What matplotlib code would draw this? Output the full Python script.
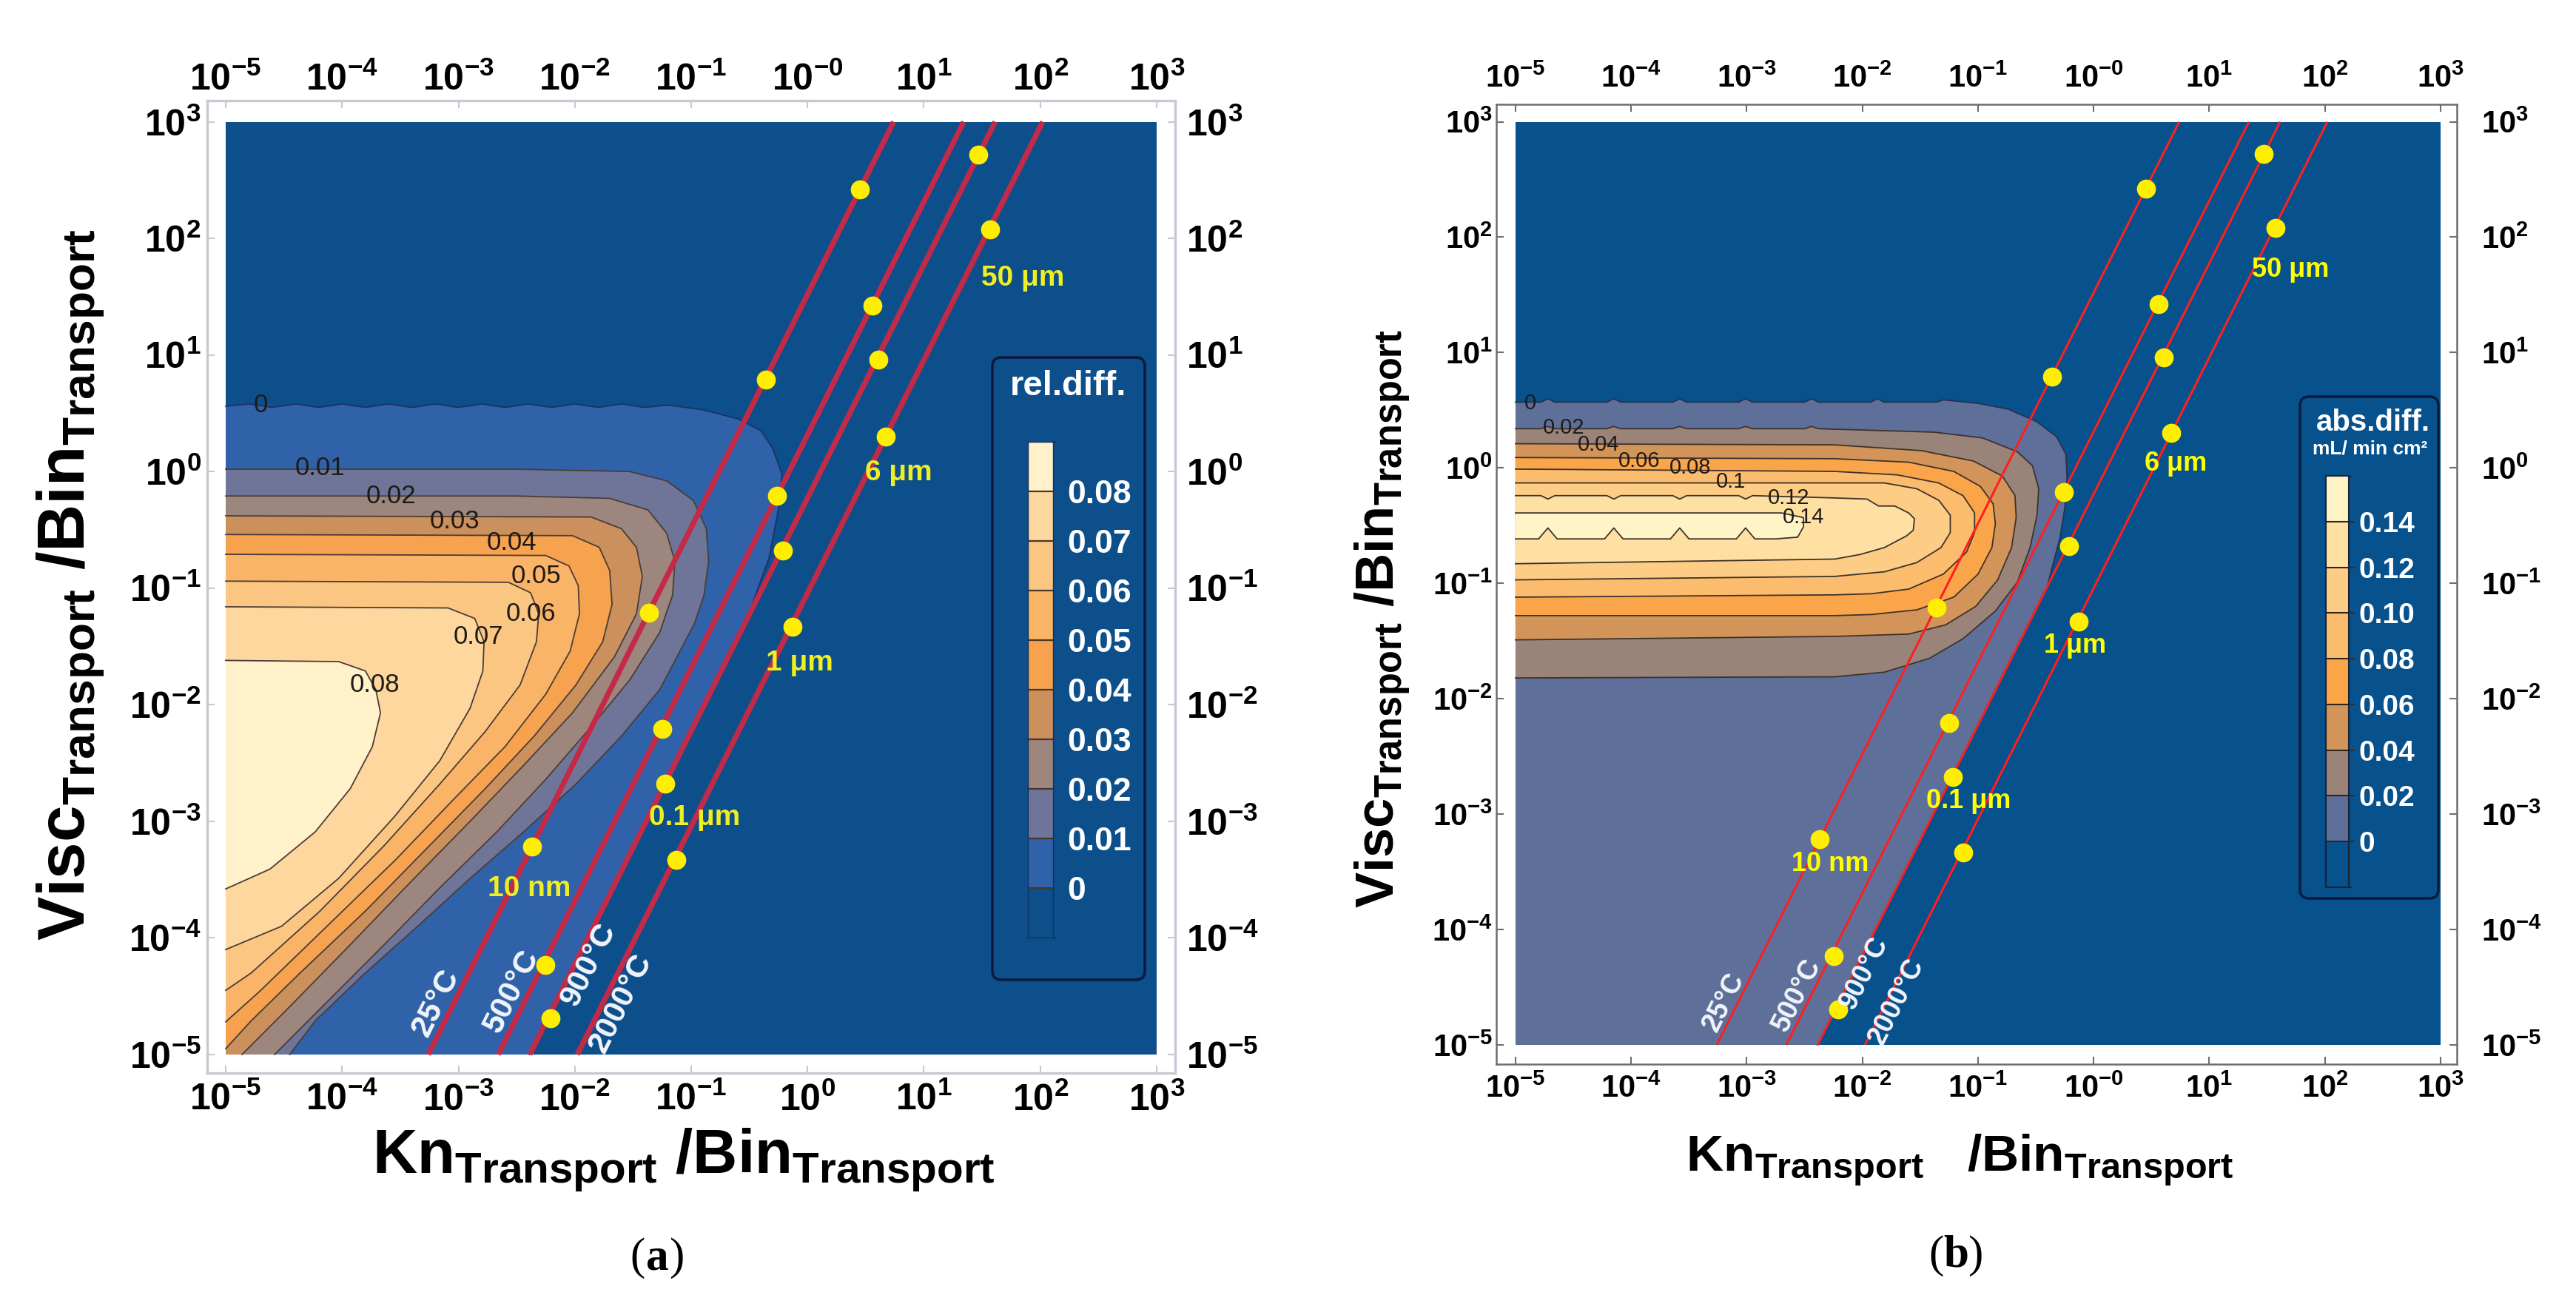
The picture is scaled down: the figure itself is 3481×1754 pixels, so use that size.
import numpy as np
import matplotlib
matplotlib.use("Agg")
import matplotlib.pyplot as plt
from matplotlib.colors import ListedColormap, BoundaryNorm
from matplotlib.cm import ScalarMappable
from matplotlib.patches import FancyBboxPatch
from matplotlib.ticker import NullLocator

plt.rcParams['font.family'] = 'Liberation Sans'
plt.rcParams['mathtext.fontset'] = 'custom'
plt.rcParams['mathtext.rm'] = 'Liberation Sans'
plt.rcParams['mathtext.bf'] = 'Liberation Sans:bold'
plt.rcParams['mathtext.it'] = 'Liberation Sans:italic'

W, H = 3481, 1754

# ---------------- data ----------------
decades = [-5, -4, -3, -2, -1, 0, 1, 2, 3]
exp_a_bottom = ['-5', '-4', '-3', '-2', '-1', '0', '1', '2', '3']
exp_a_top = ['-5', '-4', '-3', '-2', '-1', '-0', '1', '2', '3']
exp_b_x = ['-5', '-4', '-3', '-2', '-1', '-0', '1', '2', '3']
exp_y = ['-5', '-4', '-3', '-2', '-1', '0', '1', '2', '3']

# temperature lines: Kn/Bin at Visc/Bin = 1e-5 and 1e3
temps = ['25°C', '500°C', '900°C', '2000°C']
line_x_start = [5.5e-4, 2.2e-3, 4.1e-3, 1.05e-2]
line_x_end = [5.5, 22.0, 41.0, 105.0]
line_y_start = 1e-5
line_y_end = 1e3

# particle size points on each temperature line
dots_x = [[2.82, 0.437, 0.0437, 0.00427],
          [3.63, 0.55, 0.0562, 0.00562],
          [29.5, 4.07, 0.617, 0.0603, 0.00617],
          [37.2, 4.68, 0.741, 0.0741]]
dots_y = [[263, 6.17, 0.0617, 6.03e-4],
          [26.3, 0.617, 6.17e-3, 5.89e-5],
          [525, 9.12, 0.209, 2.09e-3, 2.04e-5],
          [120, 2.0, 0.0468, 4.68e-4]]

sizes = ['50 μm', '6 μm', '1 μm', '0.1 μm', '10 nm']
a_size_pos = [(1.85, 1.66), (0.78, -0.01), (-0.07, -1.64), (-0.97, -2.97), (-2.39, -3.58)]
b_size_pos = [(1.70, 1.72), (0.71, 0.04), (-0.16, -1.54), (-1.08, -2.89), (-2.28, -3.43)]
a_temp_v = [-4.62, -4.52, -4.18, -4.5]
b_temp_v = [-4.68, -4.62, -4.34, -4.59]
a_temp_side = [15.5, 15.5, -12, -16]
b_temp_side = [12.5, 12.5, -9, -9]

# panel (a): relative difference contours, vertices in decades (log10 x, log10 y)
a_levels = [0, 0.01, 0.02, 0.03, 0.04, 0.05, 0.06, 0.07, 0.08]
a_level_text = ['0', '0.01', '0.02', '0.03', '0.04', '0.05', '0.06', '0.07', '0.08']
a_c000 = [(-5.0, 0.56), (-4.8, 0.58), (-4.6, 0.55), (-4.4, 0.58), (-4.2, 0.55), (-4.0, 0.58),
          (-3.8, 0.55), (-3.6, 0.58), (-3.4, 0.55), (-3.2, 0.58), (-3.0, 0.55), (-2.8, 0.58),
          (-2.6, 0.55), (-2.4, 0.58), (-2.2, 0.55), (-2.0, 0.58), (-1.8, 0.55), (-1.6, 0.58),
          (-1.4, 0.55), (-1.2, 0.57), (-0.9, 0.53), (-0.59, 0.45), (-0.40, 0.35), (-0.30, 0.20),
          (-0.22, -0.02), (-0.25, -0.32), (-0.33, -0.74), (-0.48, -1.15), (-0.67, -1.57),
          (-1.05, -2.32), (-1.5, -3.22), (-1.95, -4.12), (-2.39, -5.0)]
a_c001 = [(-5.0, 0.02), (-2.5, 0.02), (-1.53, 0.0), (-1.21, -0.08), (-0.98, -0.25), (-0.87, -0.49),
          (-0.85, -0.77), (-0.89, -1.06), (-0.97, -1.30), (-1.27, -1.87), (-1.60, -2.27),
          (-1.99, -2.68), (-2.44, -3.09), (-2.90, -3.49), (-3.35, -3.90), (-3.80, -4.30),
          (-4.23, -4.71), (-4.45, -5.0)]
a_c002 = [(-5.0, -0.21), (-2.5, -0.21), (-1.70, -0.23), (-1.37, -0.33), (-1.21, -0.53),
          (-1.14, -0.77), (-1.16, -1.06), (-1.27, -1.38), (-1.53, -1.79), (-1.86, -2.19),
          (-2.25, -2.64), (-2.67, -3.09), (-3.16, -3.57), (-3.64, -4.06), (-4.13, -4.55),
          (-4.58, -5.0)]
a_c003 = [(-5.0, -0.38), (-1.86, -0.39), (-1.60, -0.49), (-1.47, -0.65), (-1.42, -0.90),
          (-1.47, -1.22), (-1.66, -1.59), (-2.02, -2.07), (-2.44, -2.52), (-2.90, -3.00),
          (-3.42, -3.53), (-3.97, -4.10), (-4.45, -4.59), (-4.86, -5.0)]
a_c004 = [(-5.0, -0.54), (-2.02, -0.55), (-1.79, -0.65), (-1.70, -0.85), (-1.68, -1.14),
          (-1.76, -1.46), (-1.99, -1.83), (-2.35, -2.27), (-2.77, -2.72), (-3.25, -3.21),
          (-3.80, -3.77), (-4.36, -4.30), (-4.78, -4.71), (-5.0, -4.95)]
a_c005 = [(-5.0, -0.71), (-2.25, -0.72), (-2.05, -0.81), (-1.97, -0.98), (-1.96, -1.22),
          (-2.04, -1.54), (-2.25, -1.91), (-2.60, -2.36), (-3.03, -2.80), (-3.54, -3.33),
          (-4.13, -3.90), (-4.71, -4.46), (-5.0, -4.72)]
a_c006 = [(-5.0, -0.94), (-2.57, -0.95), (-2.38, -1.04), (-2.31, -1.22), (-2.33, -1.46),
          (-2.47, -1.83), (-2.77, -2.23), (-3.16, -2.68), (-3.64, -3.21), (-4.19, -3.77),
          (-4.78, -4.30), (-5.0, -4.45)]
a_c007 = [(-5.0, -1.16), (-3.09, -1.17), (-2.86, -1.26), (-2.78, -1.46), (-2.79, -1.71),
          (-2.90, -2.03), (-3.16, -2.48), (-3.55, -2.96), (-4.03, -3.49), (-4.52, -3.90),
          (-5.0, -4.10)]
a_c008 = [(-5.0, -1.62), (-4.03, -1.63), (-3.80, -1.71), (-3.71, -1.87), (-3.67, -2.07),
          (-3.74, -2.36), (-3.93, -2.72), (-4.23, -3.09), (-4.62, -3.41), (-5.0, -3.58)]
a_label_pos = [(-4.70, 0.57), (-4.19, 0.03), (-3.58, -0.21), (-3.03, -0.43), (-2.54, -0.61),
               (-2.33, -0.90), (-2.38, -1.22), (-2.83, -1.42), (-3.72, -1.83)]

# panel (b): absolute difference contours
b_levels = [0, 0.02, 0.04, 0.06, 0.08, 0.10, 0.12, 0.14]
b_level_text = ['0', '0.02', '0.04', '0.06', '0.08', '0.1', '0.12', '0.14']
b_bar_text = ['0', '0.02', '0.04', '0.06', '0.08', '0.10', '0.12', '0.14']
b_c000 = [(-5.0, 0.57), (-4.78, 0.57), (-4.72, 0.60), (-4.66, 0.57), (-4.21, 0.57), (-4.15, 0.60),
          (-4.09, 0.57), (-3.64, 0.57), (-3.58, 0.60), (-3.52, 0.57), (-3.07, 0.57), (-3.01, 0.60),
          (-2.95, 0.57), (-2.50, 0.57), (-2.44, 0.60), (-2.38, 0.57), (-1.93, 0.57), (-1.87, 0.60),
          (-1.81, 0.57), (-1.36, 0.57), (-1.30, 0.59), (-1.0, 0.56), (-0.74, 0.51), (-0.49, 0.40),
          (-0.32, 0.27), (-0.24, 0.12), (-0.23, -0.09), (-0.25, -0.35), (-0.29, -0.60),
          (-0.40, -1.02), (-0.55, -1.32), (-1.0, -2.22), (-1.5, -3.22), (-2.0, -4.22), (-2.39, -5.0)]
b_c002 = [(-5.0, 0.34), (-4.78, 0.34), (-4.72, 0.36), (-4.66, 0.34), (-4.21, 0.34), (-4.15, 0.36),
          (-4.09, 0.34), (-3.64, 0.34), (-3.58, 0.36), (-3.52, 0.34), (-3.07, 0.34), (-3.01, 0.36),
          (-2.95, 0.34), (-2.50, 0.34), (-2.44, 0.36), (-2.38, 0.34), (-1.38, 0.31), (-0.96, 0.26),
          (-0.66, 0.14), (-0.53, 0.02), (-0.475, -0.18), (-0.49, -0.41), (-0.55, -0.69),
          (-0.66, -0.99), (-0.85, -1.24), (-1.13, -1.48), (-1.42, -1.65), (-1.81, -1.77),
          (-2.24, -1.81), (-5.0, -1.82)]
b_c004 = [(-5.0, 0.21), (-2.24, 0.20), (-1.49, 0.15), (-1.04, 0.06), (-0.79, -0.07), (-0.68, -0.24),
          (-0.67, -0.43), (-0.71, -0.69), (-0.83, -0.97), (-1.02, -1.20), (-1.28, -1.36),
          (-1.60, -1.44), (-2.24, -1.46), (-5.0, -1.49)]
b_c006 = [(-5.0, 0.09), (-2.24, 0.08), (-1.60, 0.05), (-1.21, -0.03), (-0.98, -0.16), (-0.87, -0.31),
          (-0.85, -0.48), (-0.88, -0.69), (-1.00, -0.92), (-1.21, -1.12), (-1.53, -1.23),
          (-1.92, -1.27), (-2.24, -1.28), (-5.0, -1.28)]
b_c008 = [(-5.0, -0.01), (-2.24, -0.03), (-1.70, -0.06), (-1.34, -0.13), (-1.13, -0.24),
          (-1.03, -0.39), (-1.03, -0.56), (-1.10, -0.73), (-1.30, -0.92), (-1.60, -1.05),
          (-1.92, -1.09), (-2.24, -1.10), (-5.0, -1.12)]
b_c010 = [(-5.0, -0.13), (-2.24, -0.13), (-1.81, -0.13), (-1.53, -0.18), (-1.34, -0.28),
          (-1.24, -0.41), (-1.24, -0.56), (-1.32, -0.69), (-1.53, -0.82), (-1.81, -0.90),
          (-2.24, -0.94), (-5.0, -0.97)]
b_c012 = [(-5.0, -0.24), (-4.78, -0.24), (-4.72, -0.27), (-4.66, -0.24), (-4.21, -0.24),
          (-4.15, -0.27), (-4.09, -0.24), (-3.64, -0.24), (-3.58, -0.27), (-3.52, -0.24),
          (-3.07, -0.24), (-3.01, -0.27), (-2.95, -0.24), (-2.24, -0.26), (-1.96, -0.27),
          (-1.86, -0.33), (-1.72, -0.33), (-1.60, -0.39), (-1.55, -0.44), (-1.56, -0.54),
          (-1.62, -0.59), (-1.81, -0.69), (-2.02, -0.75), (-2.24, -0.79), (-5.0, -0.83)]
b_c014 = [(-5.0, -0.39), (-2.70, -0.39), (-2.51, -0.43), (-2.51, -0.51), (-2.56, -0.60),
          (-2.75, -0.615), (-2.93, -0.615), (-3.01, -0.52), (-3.09, -0.615), (-3.50, -0.615),
          (-3.58, -0.52), (-3.66, -0.615), (-4.07, -0.615), (-4.15, -0.52), (-4.23, -0.615),
          (-4.64, -0.615), (-4.72, -0.52), (-4.80, -0.615), (-5.0, -0.615)]
b_label_pos = [(-4.87, 0.56), (-4.58, 0.35), (-4.28, 0.20), (-3.93, 0.06), (-3.49, 0.0),
               (-3.14, -0.12), (-2.64, -0.26), (-2.51, -0.43)]

# colours
a_bg = '#0c4f8b'
a_fill = ['#2f62a8', '#6f7599', '#9d867e', '#cc905c', '#f6a24e', '#f9b468', '#fbc682',
          '#fdd79d', '#fff1c9']
b_bg = '#07518c'
b_fill = ['#5e7099', '#9a8479', '#d39459', '#fba54b', '#fcbc6d', '#fdcd86', '#fee1a2', '#fff4c6']

# ---------------- figure ----------------
fig = plt.figure(figsize=(W / 100, H / 100), dpi=100)


def fx(px):
    return px / W


def fy(py):
    return 1 - py / H


def tex10(e):
    return r'$\mathbf{10^{%s}}$' % e


def panel(frame, xl, yl, bg, fills, contours, line_cols, frame_col, frame_lw,
          red, red_lw, tick_fs, pads, xexp_bottom, xexp_top):
    x0, y0, x1, y1 = frame
    ax = fig.add_axes([fx(x0), fy(y1), fx(x1) - fx(x0), fy(y0) - fy(y1)])
    ax.set_xscale('log')
    ax.set_yscale('log')
    ax.set_xlim(10 ** xl[0], 10 ** xl[1])
    ax.set_ylim(10 ** yl[0], 10 ** yl[1])
    ax.set_facecolor('white')
    ax.fill([1e-5, 1e3, 1e3, 1e-5], [1e-5, 1e-5, 1e3, 1e3], color=bg, lw=0, zorder=0.5)

    for pts, col in zip(contours, fills):
        p = np.array(pts)
        u, v = list(p[:, 0]), list(p[:, 1])
        if v[-1] <= -5.0:
            u.append(-5.0)
            v.append(-5.0)
        ax.fill(10.0 ** np.array(u), 10.0 ** np.array(v), color=col, lw=0, zorder=1)
    for i, pts in enumerate(contours):
        p = np.array(pts)
        ax.plot(10.0 ** p[:, 0], 10.0 ** p[:, 1], color=line_cols[0] if i == 0 else line_cols[1],
                lw=1.3, zorder=2)

    for xs, xe in zip(line_x_start, line_x_end):
        ax.plot([xs, xe], [line_y_start, line_y_end], color=red, lw=red_lw, zorder=3,
                solid_capstyle='butt')
    for dx, dy in zip(dots_x, dots_y):
        ax.plot(dx, dy, 'o', ms=18.5, color='#ffee00', mec='none', zorder=4)

    for s in ax.spines.values():
        s.set_color(frame_col)
        s.set_linewidth(frame_lw)
    ticks = 10.0 ** np.array(decades)
    ax.set_xticks(ticks)
    ax.set_xticklabels([tex10(e) for e in xexp_bottom])
    ax.set_yticks(ticks)
    ax.set_yticklabels([tex10(e) for e in exp_y])
    ax.xaxis.set_minor_locator(NullLocator())
    ax.yaxis.set_minor_locator(NullLocator())
    ax.tick_params(which='major', direction='in', length=7, width=1.5, color=frame_col,
                   top=True, right=True, labelsize=tick_fs)
    ax.tick_params(axis='x', pad=pads[0])
    ax.tick_params(axis='y', pad=pads[1])

    top = ax.secondary_xaxis('top')
    top.set_xticks(ticks)
    top.set_xticklabels([tex10(e) for e in xexp_top])
    top.xaxis.set_minor_locator(NullLocator())
    top.tick_params(length=0, labelsize=tick_fs, pad=pads[2])
    right = ax.secondary_yaxis('right')
    right.set_yticks(ticks)
    right.set_yticklabels([tex10(e) for e in exp_y])
    right.yaxis.set_minor_locator(NullLocator())
    right.tick_params(length=0, labelsize=tick_fs, pad=pads[3])
    for sec in (top, right):
        for s in sec.spines.values():
            s.set_visible(False)
    return ax


def line_point(i, v):
    u0 = np.log10(line_x_start[i])
    u1 = np.log10(line_x_end[i])
    return u0 + (v + 5.0) * (u1 - u0) / 8.0


def decorate(ax, size_pos, size_fs, size_col, temp_v, temp_fs, temp_side,
             label_pos, level_text, label_fs):
    for s, (u, v) in zip(sizes, size_pos):
        ax.text(10 ** u, 10 ** v, s, fontsize=size_fs, fontweight='bold', color=size_col,
                ha='center', va='center', zorder=5)
    for i, (t, v, off) in enumerate(zip(temps, temp_v, temp_side)):
        u = line_point(i, v)
        ax.annotate(t, xy=(10 ** u, 10 ** v), xytext=(-0.894 * off, 0.447 * off),
                    textcoords='offset points', rotation=63.4, rotation_mode='anchor',
                    ha='center', va='center', fontsize=temp_fs, fontweight='bold',
                    color='#f2f5fb', zorder=5)
    for s, (u, v) in zip(level_text, label_pos):
        ax.text(10 ** u, 10 ** v, s, fontsize=label_fs, color='#1e1a18', ha='center',
                va='center', zorder=5)


# ----- panel (a)
a_contours = [a_c000, a_c001, a_c002, a_c003, a_c004, a_c005, a_c006, a_c007, a_c008]
ax_a = panel((280, 136, 1588, 1450), (-5.159, 3.159), (-5.159, 3.181), a_bg, a_fill,
             a_contours, ('#1b3263', '#4a3d36'), '#c6c9d2', 2.4, '#c42a48', 5.2, 36,
             (9, 6, 3, 11), exp_a_bottom, exp_a_top)
decorate(ax_a, a_size_pos, 28, '#eeee22', a_temp_v, 31, a_temp_side, a_label_pos, a_level_text, 25)

# ----- panel (b)
b_contours = [b_c000, b_c002, b_c004, b_c006, b_c008, b_c010, b_c012, b_c014]
ax_b = panel((2022, 141, 3320, 1438), (-5.166, 3.141), (-5.167, 3.151), b_bg, b_fill,
             b_contours, ('#27324d', '#3d332c'), '#6e6e6e', 1.8, '#ff1f1f', 2.2, 30,
             (10, 3.5, 10, 24), exp_b_x, exp_b_x)
decorate(ax_b, b_size_pos, 26, '#ffff00', b_temp_v, 27, b_temp_side, b_label_pos, b_level_text, 21)

# ----- legend boxes with colour bars
box_a = FancyBboxPatch((fx(1341), fy(1324)), fx(1547) - fx(1341), fy(483) - fy(1324),
                       boxstyle='round,pad=0,rounding_size=0.0035', mutation_aspect=W / H,
                       transform=fig.transFigure, facecolor=a_bg, edgecolor='#0b1a3c', lw=2.5)
fig.patches.append(box_a)
box_b = FancyBboxPatch((fx(3108), fy(1214)), fx(3295) - fx(3108), fy(536) - fy(1214),
                       boxstyle='round,pad=0,rounding_size=0.0035', mutation_aspect=W / H,
                       transform=fig.transFigure, facecolor=b_bg, edgecolor='#0b1a3c', lw=2.5)
fig.patches.append(box_b)

cax_a = fig.add_axes([fx(1389), fy(1267), fx(1423) - fx(1389), fy(597) - fy(1267)])
cax_a.set_zorder(2)
bounds_a = [-0.01] + a_levels + [0.09]
sm_a = ScalarMappable(norm=BoundaryNorm(bounds_a, len(bounds_a) - 1),
                      cmap=ListedColormap([a_bg] + a_fill))
cb_a = fig.colorbar(sm_a, cax=cax_a, ticks=a_levels, drawedges=True)
cb_a.set_ticklabels(a_level_text)
cb_a.outline.set_edgecolor('#123060')
cb_a.outline.set_linewidth(1.0)
cb_a.dividers.set_color('#4a3526')
cb_a.dividers.set_linewidth(1.6)
cax_a.tick_params(length=0, pad=13.5, labelsize=32, labelcolor='white')
for t in cax_a.get_yticklabels():
    t.set_fontweight('bold')
fig.text(fx(1443), fy(522), 'rel.diff.', fontsize=34, fontweight='bold', color='white',
         ha='center', va='center')

cax_b = fig.add_axes([fx(3143), fy(1199), fx(3174) - fx(3143), fy(643) - fy(1199)])
cax_b.set_zorder(2)
bounds_b = [-0.02] + b_levels + [0.16]
sm_b = ScalarMappable(norm=BoundaryNorm(bounds_b, len(bounds_b) - 1),
                      cmap=ListedColormap([b_bg] + b_fill))
cb_b = fig.colorbar(sm_b, cax=cax_b, ticks=b_levels, drawedges=True)
cb_b.set_ticklabels(b_bar_text)
cb_b.outline.set_edgecolor('#1d2233')
cb_b.outline.set_linewidth(1.5)
cb_b.dividers.set_color('#2e2520')
cb_b.dividers.set_linewidth(1.5)
cax_b.tick_params(length=5.8, width=1.3, color='#2a2a2a', pad=4, labelsize=28,
                  labelcolor='white')
for t in cax_b.get_yticklabels():
    t.set_fontweight('bold')
fig.text(fx(3207), fy(571), 'abs.diff.', fontsize=29, fontweight='bold', color='white',
         ha='center', va='center')
fig.text(fx(3203), fy(607), 'mL/ min cm²', fontsize=19, fontweight='bold', color='white',
         ha='center', va='center')

# ----- axis titles
fig.text(fx(924), fy(1568), r'$\mathbf{Kn}_{\mathbf{Transport}}\ \mathbf{/Bin}_{\mathbf{Transport}}$',
         fontsize=60, ha='center', va='center')
fig.text(fx(95), fy(790), r'$\mathbf{Visc}_{\mathbf{Transport}}\ \mathbf{/Bin}_{\mathbf{Transport}}$',
         fontsize=64, rotation=90, ha='center', va='center')
fig.text(fx(2648), fy(1568), r'$\mathbf{Kn}_{\mathbf{Transport}}\ \ \ \mathbf{/Bin}_{\mathbf{Transport}}$',
         fontsize=50, ha='center', va='center')
fig.text(fx(1868), fy(836), r'$\mathbf{Visc}_{\mathbf{Transport}}\ \mathbf{/Bin}_{\mathbf{Transport}}$',
         fontsize=52, rotation=90, ha='center', va='center')

# ----- panel letters
for cx, cy, letter in [(888, 1700, 'a'), (2643, 1697, 'b')]:
    fig.text(fx(cx - 16), fy(cy), '(', fontsize=44, family='Liberation Serif', ha='right', va='center')
    fig.text(fx(cx), fy(cy), letter, fontsize=44, family='Liberation Serif', fontweight='bold',
             ha='center', va='center')
    fig.text(fx(cx + 16), fy(cy), ')', fontsize=44, family='Liberation Serif', ha='left', va='center')

fig.savefig('out.png', dpi=100)
